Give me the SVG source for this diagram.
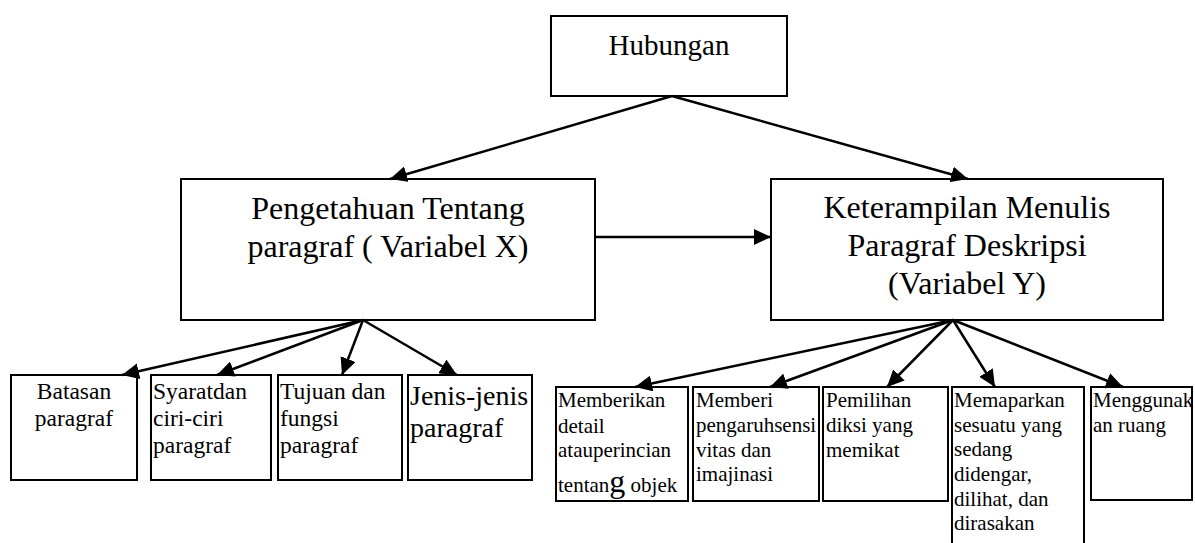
<svg xmlns="http://www.w3.org/2000/svg" width="1195" height="543" viewBox="0 0 1195 543">
<style>
  .box { fill: #fff; stroke: #000; stroke-width: 2; }
  .t { font-family: "Liberation Serif", "Times New Roman", "DejaVu Serif", serif; fill: #000; }
  .c { text-anchor: middle; }
  .conn { stroke: #000; stroke-width: 2.5; fill: none; marker-end: url(#ah); }
</style>
<defs>
  <marker id="ah" markerUnits="userSpaceOnUse" markerWidth="18" markerHeight="16" refX="17" refY="8" orient="auto">
    <path d="M0,0 L17,8 L0,16 z" fill="#000"/>
  </marker>
</defs>
<rect width="1195" height="543" fill="#fff"/>

<g id="n-hubungan">
  <rect class="box" x="551" y="16" width="236" height="80"/>
  <text class="t c" x="669" y="55" font-size="29" font-family="Liberation Serif, serif">Hubungan</text>
</g>
<g id="n-pengetahuan">
  <rect class="box" x="181" y="179" width="414" height="141"/>
  <text class="t c" x="388" y="219" font-size="32">Pengetahuan Tentang</text>
  <text class="t c" x="388" y="257" font-size="32">paragraf ( Variabel X)</text>
</g>
<g id="n-keterampilan">
  <rect class="box" x="771" y="179" width="392" height="141"/>
  <text class="t c" x="967" y="218" font-size="32">Keterampilan Menulis</text>
  <text class="t c" x="967" y="256" font-size="32">Paragraf Deskripsi</text>
  <text class="t c" x="967" y="294" font-size="32">(Variabel Y)</text>
</g>

<g id="n-batasan">
  <rect class="box" x="11" y="375" width="126" height="105"/>
  <text class="t c" x="74" y="399" font-size="23.5">Batasan</text>
  <text class="t c" x="74" y="426" font-size="23.5">paragraf</text>
</g>
<g id="n-syarat">
  <rect class="box" x="151" y="375" width="120" height="105"/>
  <text class="t" x="153" y="399" font-size="23.5">Syaratdan</text>
  <text class="t" x="153" y="426" font-size="23.5">ciri-ciri</text>
  <text class="t" x="153" y="453" font-size="23.5">paragraf</text>
</g>
<g id="n-tujuan">
  <rect class="box" x="278" y="375" width="124" height="105"/>
  <text class="t" x="280" y="399" font-size="23.5">Tujuan dan</text>
  <text class="t" x="280" y="426" font-size="23.5">fungsi</text>
  <text class="t" x="280" y="453" font-size="23.5">paragraf</text>
</g>
<g id="n-jenis">
  <rect class="box" x="408" y="375" width="124" height="105"/>
  <text class="t" x="410" y="405" font-size="28">Jenis-jenis</text>
  <text class="t" x="410" y="437" font-size="28">paragraf</text>
</g>

<g id="n-memberikan">
  <rect class="box" x="556" y="387" width="132" height="114"/>
  <text class="t" x="558" y="407" font-size="21">Memberikan</text>
  <text class="t" x="558" y="433" font-size="21">detail</text>
  <text class="t" x="558" y="457" font-size="21">atauperincian</text>
  <text class="t" x="558" y="492" font-size="21">tentan<tspan font-size="32">g</tspan> objek</text>
</g>
<g id="n-memberi">
  <rect class="box" x="693" y="387" width="126" height="114"/>
  <text class="t" x="696" y="407" font-size="21">Memberi</text>
  <text class="t" x="696" y="432" font-size="21">pengaruhsensi</text>
  <text class="t" x="696" y="457" font-size="21">vitas dan</text>
  <text class="t" x="696" y="481" font-size="21">imajinasi</text>
</g>
<g id="n-pemilihan">
  <rect class="box" x="823" y="387" width="125" height="114"/>
  <text class="t" x="826" y="407" font-size="21">Pemilihan</text>
  <text class="t" x="826" y="432" font-size="21">diksi yang</text>
  <text class="t" x="826" y="457" font-size="21">memikat</text>
</g>
<g id="n-memaparkan">
  <rect class="box" x="952" y="387" width="132" height="180"/>
  <text class="t" x="954" y="407" font-size="21">Memaparkan</text>
  <text class="t" x="954" y="432" font-size="21">sesuatu yang</text>
  <text class="t" x="954" y="456" font-size="21">sedang</text>
  <text class="t" x="954" y="481" font-size="21">didengar,</text>
  <text class="t" x="954" y="506" font-size="21">dilihat, dan</text>
  <text class="t" x="954" y="530" font-size="21">dirasakan</text>
</g>
<g id="n-menggunakan">
  <rect class="box" x="1091" y="387" width="101" height="113"/>
  <text class="t" x="1093" y="407" font-size="21">Menggunak</text>
  <text class="t" x="1093" y="432" font-size="21">an ruang</text>
</g>

<g id="connectors">
  <line class="conn" x1="672" y1="96" x2="390" y2="179"/>
  <line class="conn" x1="672" y1="96" x2="968" y2="179"/>
  <line class="conn" x1="595" y1="237" x2="771" y2="237"/>
  <line class="conn" x1="363" y1="320" x2="122" y2="375"/>
  <line class="conn" x1="363" y1="320" x2="217" y2="375"/>
  <line class="conn" x1="363" y1="320" x2="342" y2="375"/>
  <line class="conn" x1="363" y1="320" x2="457" y2="375"/>
  <line class="conn" x1="953" y1="320" x2="635" y2="387"/>
  <line class="conn" x1="953" y1="320" x2="770" y2="387"/>
  <line class="conn" x1="953" y1="320" x2="887" y2="387"/>
  <line class="conn" x1="953" y1="320" x2="995" y2="387"/>
  <line class="conn" x1="953" y1="320" x2="1123" y2="387"/>
</g>
</svg>
